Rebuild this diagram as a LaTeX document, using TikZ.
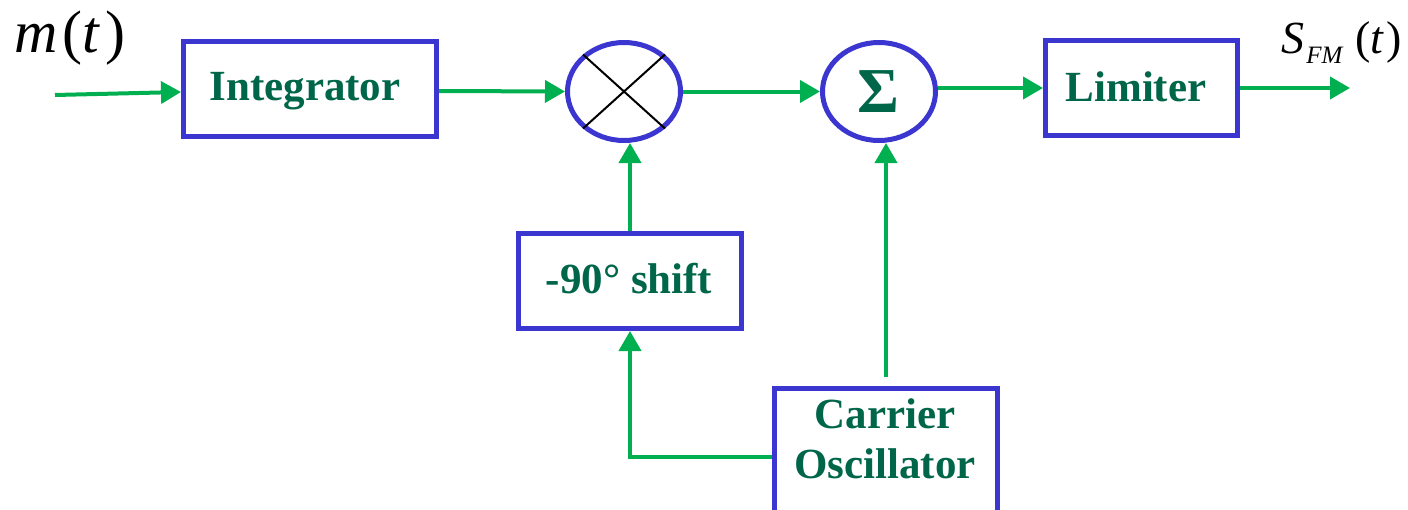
\documentclass[tikz,border=0pt]{standalone}
\usepackage{fontspec}
\setmainfont{Liberation Serif}
\usetikzlibrary{arrows.meta,shapes.geometric,calc}
\definecolor{boxblue}{HTML}{3B36CF}
\definecolor{sig}{HTML}{00B050}
\definecolor{txt}{HTML}{00664A}
\tikzset{
  blk/.style={draw=boxblue, line width=2.5pt, rectangle, fill=white},
  lbl/.style={text=txt, font=\fontsize{21.5}{25}\selectfont\bfseries, align=center, inner sep=0pt, anchor=base},
  junc/.style={draw=boxblue, line width=2.5pt, ellipse, minimum width=56.5pt, minimum height=49pt, inner sep=0pt},
  wire/.style={draw=sig, line width=2pt, -{Triangle[length=10pt,width=11pt]}},
  plain/.style={draw=sig, line width=2pt}
}
\begin{document}
\begin{tikzpicture}[x=0.5pt,y=-0.5pt]
\useasboundingbox (0,0) rectangle (1408,509);
% blocks
\node[blk, minimum width=126.5pt, minimum height=47.5pt] (int) at (310,88.5) {};
\node[lbl] (intt) at (305,100) {Integrator};
\node[junc] (mult) at (624,91.5) {};
\node[junc] (sum) at (879,91.5) {};
\node[text=txt, font=\fontsize{32}{32}\selectfont\bfseries, inner sep=0pt] (sigma) at (878,92) {Σ};
\node[blk, minimum width=96pt, minimum height=47.5pt] (lim) at (1141.5,88) {};
\node[lbl] (limt) at (1136,101) {Limiter};
\node[blk, minimum width=111.5pt, minimum height=47.5pt] (shift) at (630,281) {};
\node[lbl] (shiftt) at (629,293) {-90° shift};
\node[blk, minimum width=111.5pt, minimum height=80pt, anchor=north] (car) at (886,385.5) {};
\node[lbl] (cart) at (885,478) {Carrier\\Oscillator};
% multiplier cross
\draw[line width=1pt] ($(mult.center)+(-41,-37)$) -- ($(mult.center)+(41,37)$);
\draw[line width=1pt] ($(mult.center)+(41,-37)$) -- ($(mult.center)+(-41,37)$);
% labels
\node[anchor=base west, inner sep=0pt, font=\fontsize{30}{30}\selectfont] (mt) at (14,52) {\textit{m}\hspace{2.5pt}(\textit{t}\hspace{2.5pt})};
\node[anchor=base west, inner sep=0pt, font=\fontsize{23}{23}\selectfont] (sfm) at (1281,53) {\textit{S}\hspace{1pt}\raisebox{-5pt}{\fontsize{12.5}{12.5}\selectfont\textit{FM}}\hspace{6pt}(\textit{t}\hspace{1pt})};
% connectors
\coordinate (in) at (55,95);
\coordinate (out) at (1350,88);
\draw[wire] (in) -- ($(int.west)+(0,3.5)$);
\draw[wire] ($(int.east)+(0,2.5)$) -- (mult.west);
\draw[wire] (mult.east) -- (sum.west);
\draw[wire] (sum.east |- lim.west) -- (lim.west);
\draw[wire] (lim.east) -- (out);
\draw[wire] (shift.north) -- (mult.south -| shift.north);
\draw[wire] ($(car.north)+(0,-9)$) -- (sum.south -| car.north);
\draw[wire] (car.west |- 0,457) -- (shift.south |- 0,457) -- (shift.south);
\end{tikzpicture}
\end{document}
